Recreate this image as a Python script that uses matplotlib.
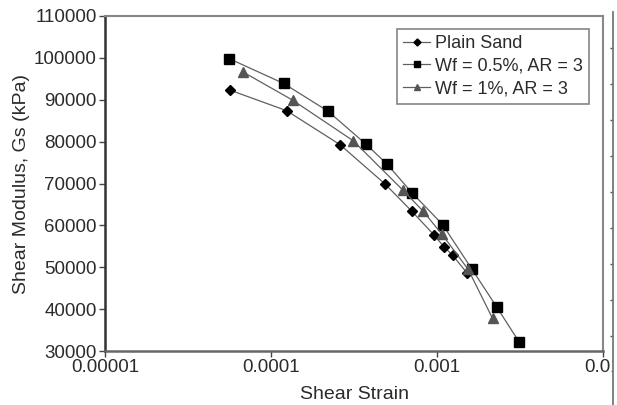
import matplotlib
matplotlib.use("Agg")
import matplotlib.pyplot as plt
from matplotlib.ticker import FixedLocator, NullLocator

plt.rcParams['font.family'] = ['Liberation Sans', 'DejaVu Sans']

# data
strain_plain = [5.66e-5, 1.24e-4, 2.6e-4, 4.86e-4, 7.04e-4, 9.6e-4, 1.1e-3, 1.24e-3, 1.51e-3]
gs_plain = [92300, 87400, 79300, 69900, 63400, 57700, 54900, 52900, 48700]

strain_wf05 = [5.61e-5, 1.19e-4, 2.2e-4, 3.73e-4, 4.98e-4, 7.1e-4, 1.08e-3, 1.62e-3, 2.29e-3, 3.12e-3]
gs_wf05 = [99800, 93900, 87300, 79400, 74700, 67700, 60200, 49600, 40500, 32200]

strain_wf1 = [6.81e-5, 1.35e-4, 3.13e-4, 6.2e-4, 8.2e-4, 1.07e-3, 1.54e-3, 2.16e-3]
gs_wf1 = [96600, 89900, 80200, 68500, 63500, 57900, 49500, 37800]

labels = ['Plain Sand', 'Wf = 0.5%, AR = 3', 'Wf = 1%, AR = 3']
xticks = [1e-5, 1e-4, 1e-3, 1e-2]
xticklabels = ['0.00001', '0.0001', '0.001', '0.01']
yticks = list(range(30000, 110001, 10000))

W, H = 617, 405
fig = plt.figure(figsize=(W / 100, H / 100), dpi=100)
ax = fig.add_axes([105 / W, 1 - 351 / H, (603 - 105) / W, (351 - 16) / H])

txt = '#2b2b2b'
line_c = '#606060'
ax.plot(strain_plain, gs_plain, color=line_c, lw=0.9, marker='D', ms=5.5,
        mfc='black', mec='black', label=labels[0])
ax.plot(strain_wf05, gs_wf05, color=line_c, lw=0.9, marker='s', ms=7.5,
        mfc='black', mec='black', label=labels[1])
ax.plot(strain_wf1, gs_wf1, color=line_c, lw=0.9, marker='^', ms=6.5,
        mfc='#555555', mec='#555555', label=labels[2])

ax.set_xscale('log')
ax.set_xlim(1e-5, 1e-2)
ax.set_ylim(30000, 110000)
ax.xaxis.set_major_locator(FixedLocator(xticks))
ax.xaxis.set_minor_locator(NullLocator())
ax.set_xticklabels(xticklabels)
ax.set_yticks(yticks)
ax.set_yticklabels([str(v) for v in yticks])
ax.tick_params(axis='both', direction='out', length=4, width=1, color='#444444',
               labelsize=13.5, labelcolor=txt, pad=2)

ax.spines['left'].set_color('#333333')
ax.spines['left'].set_linewidth(1.8)
ax.spines['bottom'].set_color('#666666')
ax.spines['bottom'].set_linewidth(1.8)
for s in ['top', 'right']:
    ax.spines[s].set_color('#888888')
    ax.spines[s].set_linewidth(1.5)

ax.set_xlabel('Shear Strain', fontsize=14, color=txt, labelpad=7)
ax.set_ylabel('Shear Modulus, Gs (kPa)', fontsize=14, color=txt, labelpad=3)

leg = ax.legend(loc='upper right', bbox_to_anchor=(0.972, 0.961), fontsize=13,
                frameon=True, fancybox=False, handlelength=1.5, handletextpad=0.25,
                borderpad=0.35, labelspacing=0.3, borderaxespad=0, markerscale=0.65)
leg.get_frame().set_edgecolor('#666666')
leg.get_frame().set_linewidth(1.2)
for t in leg.get_texts():
    t.set_color(txt)

# edge of the neighbouring panel on the right
ax2 = fig.add_axes([613 / W, 0, 4 / W, 1 - 12 / H])
ax2.set_facecolor('white')
for s in ['top', 'right', 'bottom']:
    ax2.spines[s].set_visible(False)
ax2.spines['left'].set_color('#777777')
ax2.spines['left'].set_linewidth(1.3)
ax2.set_xticks([])
ax2.set_ylim(0, 393)
ax2.yaxis.set_major_locator(FixedLocator([393 - v + 12 for v in [48, 84, 120, 156, 192, 228, 264, 300, 336]]))
ax2.tick_params(axis='y', direction='out', length=2.5, width=1, color='#555555', labelleft=False)

fig.savefig('out.png', dpi=100)
